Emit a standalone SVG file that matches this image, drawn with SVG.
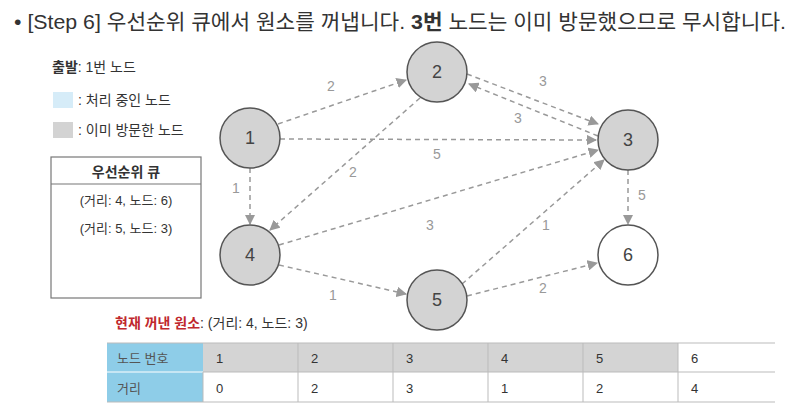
<svg xmlns="http://www.w3.org/2000/svg" width="800" height="412" viewBox="0 0 800 412">
<style>
text{font-family:"Liberation Sans","Noto Sans CJK KR",sans-serif;fill:#333}
.n{fill:#d3d3d3;stroke:#555;stroke-width:1.5}
.nt{font-size:18px;text-anchor:middle;fill:#444}
.e{stroke:#999;stroke-width:1.5;stroke-dasharray:5,4;fill:none;marker-end:url(#a)}
.el{font-size:14px;fill:#999;text-anchor:middle}
.c{font-size:13px;fill:#555}
.g{stroke:#bbb;stroke-width:1}
</style>
<defs><marker id="a" viewBox="0 0 10 10" refX="9" refY="5" markerWidth="7" markerHeight="7" orient="auto"><path d="M0,0L10,5L0,10z" fill="#999"/></marker></defs>
<rect width="800" height="412" fill="#fff"/>
<text x="14" y="29" font-size="21" fill="#222" textLength="772" lengthAdjust="spacingAndGlyphs">•  [Step 6] 우선순위 큐에서 원소를 꺼냅니다. <tspan font-weight="bold">3번</tspan> 노드는 이미 방문했으므로 무시합니다.</text>
<g id="legend">
<text x="52" y="72" font-size="14"><tspan font-weight="bold">출발</tspan>: 1번 노드</text>
<rect x="53" y="92" width="20" height="16" fill="#d6ecf8"/>
<text x="78" y="105" font-size="14">: 처리 중인 노드</text>
<rect x="53" y="122" width="20" height="16" fill="#d3d3d3"/>
<text x="78" y="135" font-size="14">: 이미 방문한 노드</text>
</g>
<g id="queue">
<rect x="51" y="157" width="150" height="141" fill="#fff" stroke="#777" stroke-width="1.2"/>
<line x1="51" y1="184" x2="201" y2="184" stroke="#777" stroke-width="1.2"/>
<text x="126" y="177" font-size="14" font-weight="bold" text-anchor="middle">우선순위 큐</text>
<text x="126" y="205" font-size="13" text-anchor="middle">(거리: 4, 노드: 6)</text>
<text x="126" y="233" font-size="13" text-anchor="middle">(거리: 5, 노드: 3)</text>
</g>
<g id="connectors">
<line class="e" x1="278" y1="124" x2="406" y2="80"/><text class="el" x="331" y="91">2</text>
<line class="e" x1="467" y1="74" x2="598" y2="124"/><text class="el" x="543" y="86">3</text>
<line class="e" x1="598" y1="136" x2="469" y2="84"/><text class="el" x="518" y="123">3</text>
<line class="e" x1="280" y1="139" x2="596" y2="140"/><text class="el" x="437" y="159">5</text>
<line class="e" x1="420" y1="98" x2="270" y2="230"/><text class="el" x="353" y="177">2</text>
<line class="e" x1="250" y1="168" x2="250" y2="224"/><text class="el" x="236" y="193">1</text>
<line class="e" x1="279" y1="245" x2="598" y2="150"/><text class="el" x="430" y="230">3</text>
<line class="e" x1="279" y1="265" x2="406" y2="294"/><text class="el" x="333" y="300">1</text>
<line class="e" x1="462" y1="284" x2="604" y2="160"/><text class="el" x="546" y="230">1</text>
<line class="e" x1="467" y1="296" x2="597" y2="263"/><text class="el" x="543" y="293">2</text>
<line class="e" x1="628" y1="170" x2="628" y2="224"/><text class="el" x="642" y="200">5</text>
</g>
<g id="n1"><circle class="n" cx="250" cy="138" r="30"/><text class="nt" x="250" y="144">1</text></g>
<g id="n2"><circle class="n" cx="437" cy="72" r="30"/><text class="nt" x="437" y="78">2</text></g>
<g id="n3"><circle class="n" cx="628" cy="140" r="30"/><text class="nt" x="628" y="146">3</text></g>
<g id="n4"><circle class="n" cx="250" cy="255" r="30"/><text class="nt" x="250" y="261">4</text></g>
<g id="n5"><circle class="n" cx="437" cy="300" r="30"/><text class="nt" x="437" y="306">5</text></g>
<g id="n6"><circle class="n" cx="628" cy="255" r="30" style="fill:#fff"/><text class="nt" x="628" y="261">6</text></g>
<text x="115" y="328" font-size="14"><tspan font-weight="bold" fill="#c0282d">현재 꺼낸 원소</tspan>: (거리: 4, 노드: 3)</text>
<g id="table">
<rect x="107" y="343" width="96" height="59" fill="#8ecde8"/>
<rect x="203" y="343" width="475" height="29" fill="#d4d4d4"/>
<line class="g" x1="107" y1="343" x2="775" y2="343"/>
<line x1="107" y1="372" x2="203" y2="372" stroke="#fff"/>
<line class="g" x1="107" y1="402" x2="775" y2="402"/>
<line class="g" x1="203" y1="372" x2="775" y2="372"/>
<g class="g"><line x1="298" y1="343" x2="298" y2="402"/><line x1="393" y1="343" x2="393" y2="402"/><line x1="488" y1="343" x2="488" y2="402"/><line x1="583" y1="343" x2="583" y2="402"/><line x1="678" y1="343" x2="678" y2="402"/><line x1="203" y1="372" x2="203" y2="402"/></g>
<text class="c" x="117" y="363" font-size="13">노드 번호</text>
<text class="c" x="117" y="393" font-size="13">거리</text>
<g class="c"><text x="216" y="363">1</text><text x="311" y="363">2</text><text x="406" y="363">3</text><text x="501" y="363">4</text><text x="596" y="363">5</text><text x="691" y="363">6</text>
<text x="216" y="393">0</text><text x="311" y="393">2</text><text x="406" y="393">3</text><text x="501" y="393">1</text><text x="596" y="393">2</text><text x="691" y="393">4</text></g>
</g>
</svg>
